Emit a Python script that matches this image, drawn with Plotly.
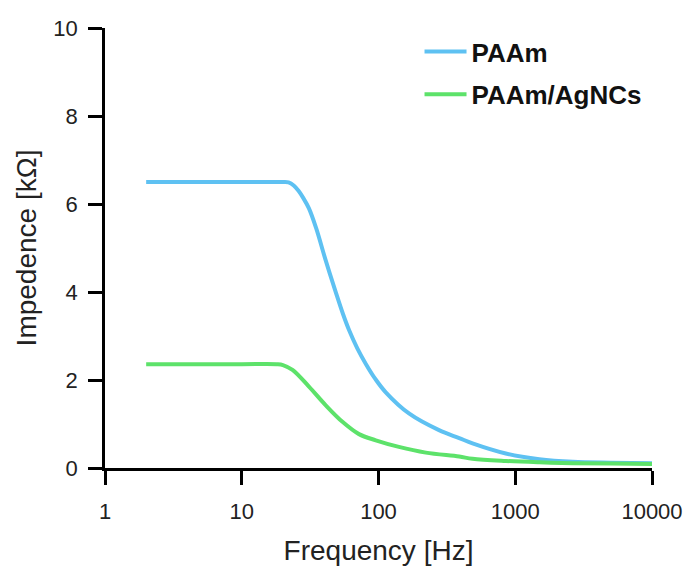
import plotly.graph_objects as go

# Data
freq_paam = [2, 10, 20, 22, 24, 26, 28, 31, 35, 41, 49, 55, 61, 70, 81, 95, 113, 167, 277, 389, 487, 853, 1500, 2630, 5000, 10000]
imp_paam = [6.5, 6.5, 6.5, 6.49, 6.42, 6.3, 6.15, 5.9, 5.45, 4.73, 3.97, 3.5, 3.13, 2.72, 2.36, 2.02, 1.72, 1.24, 0.86, 0.68, 0.56, 0.33, 0.20, 0.14, 0.12, 0.11]

freq_ag = [2, 10, 18, 20, 23.5, 31, 41, 54.5, 72, 95.5, 141, 222, 389, 487, 853, 1500, 2630, 5000, 10000]
imp_ag = [2.36, 2.36, 2.36, 2.34, 2.23, 1.85, 1.43, 1.05, 0.77, 0.63, 0.48, 0.35, 0.26, 0.21, 0.16, 0.13, 0.11, 0.10, 0.09]

x_ticks = [1, 10, 100, 1000, 10000]
x_ticklabels = ["1", "10", "100", "1000", "10000"]
y_ticks = [0, 2, 4, 6, 8, 10]

series_names = ["PAAm", "PAAm/AgNCs"]
colors = ["#5EC1F2", "#5DE26A"]

FONT = "Arial, Liberation Sans, sans-serif"

fig = go.Figure()
fig.add_trace(go.Scatter(x=freq_paam, y=imp_paam, mode="lines", name=series_names[0],
                         legendgroup="a",
                         line=dict(color=colors[0], width=4, shape="spline", smoothing=1.0)))
fig.add_trace(go.Scatter(x=freq_ag, y=imp_ag, mode="lines", name=series_names[1],
                         legendgroup="b",
                         line=dict(color=colors[1], width=4, shape="spline", smoothing=1.0)))

fig.update_layout(
    width=691, height=571,
    margin=dict(l=105, r=39, t=28, b=103),
    plot_bgcolor="white", paper_bgcolor="white",
    font=dict(family=FONT, color="#222222", size=22),
    showlegend=True,
    legend=dict(x=0.575, y=1.0, xanchor="left", yanchor="top",
                font=dict(family=FONT, size=26, color="#111111", weight="bold"),
                bgcolor="rgba(0,0,0,0)", tracegroupgap=6, itemwidth=42,
                traceorder="grouped"),
    xaxis=dict(type="log", range=[0, 4], tickvals=x_ticks, ticktext=x_ticklabels,
               showline=True, linecolor="black", linewidth=2.5,
               ticks="outside", ticklen=14, tickwidth=2.5, tickcolor="black",
               showgrid=False, zeroline=False, ticklabelstandoff=8,
               tickfont=dict(size=22),
               title=dict(text="Frequency [Hz]", font=dict(size=28), standoff=18),
               automargin=False),
    yaxis=dict(range=[0, 10], tickvals=y_ticks,
               showline=True, linecolor="black", linewidth=2.5,
               ticks="outside", ticklen=14, tickwidth=2.5, tickcolor="black",
               showgrid=False, zeroline=False, ticklabelstandoff=6,
               tickfont=dict(size=22),
               title=dict(text="Impedence [kΩ]", font=dict(size=28), standoff=9),
               automargin=False),
)

fig.write_html("out.html")
